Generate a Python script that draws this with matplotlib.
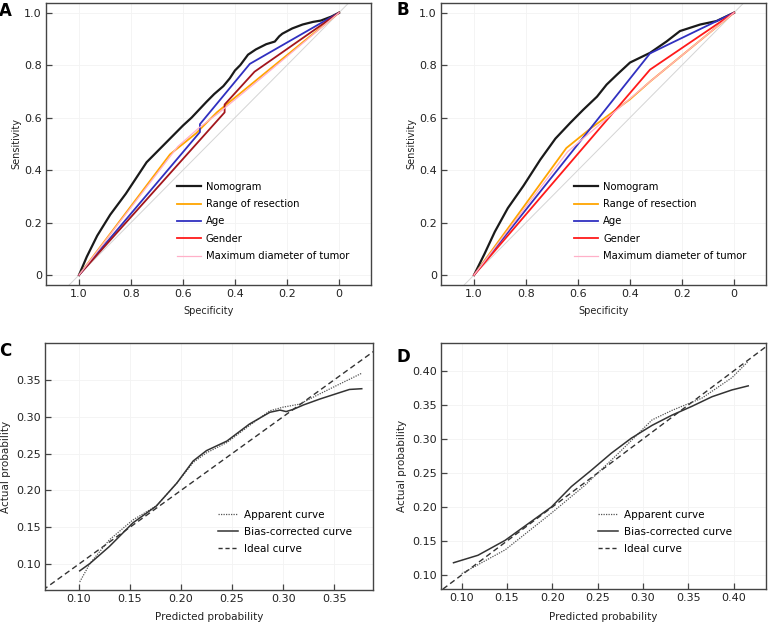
import numpy as np
import matplotlib.pyplot as plt

# ROC data, panel A (specificity, sensitivity)
a_nomo_spec = [1.0, 0.97, 0.93, 0.88, 0.82, 0.78, 0.74, 0.69, 0.64, 0.60, 0.567, 0.51, 0.48, 0.445, 0.42, 0.40, 0.38, 0.35, 0.32, 0.28, 0.247, 0.23, 0.218, 0.18, 0.14, 0.10, 0.07, 0.03, 0.0]
a_nomo_sens = [0.0, 0.07, 0.15, 0.23, 0.31, 0.37, 0.43, 0.48, 0.53, 0.57, 0.60, 0.66, 0.69, 0.72, 0.75, 0.78, 0.80, 0.84, 0.86, 0.88, 0.89, 0.91, 0.92, 0.94, 0.955, 0.965, 0.97, 0.985, 1.0]
a_range_spec = [1.0, 0.65, 0.55, 0.47, 0.0]
a_range_sens = [0.0, 0.46, 0.54, 0.62, 1.0]
a_age_spec = [1.0, 0.535, 0.535, 0.343, 0.0]
a_age_sens = [0.0, 0.545, 0.575, 0.805, 1.0]
a_gender_spec = [1.0, 0.44, 0.44, 0.325, 0.0]
a_gender_sens = [0.0, 0.62, 0.65, 0.775, 1.0]
a_diam_spec = [1.0, 0.62, 0.54, 0.46, 0.30, 0.0]
a_diam_sens = [0.0, 0.49, 0.56, 0.62, 0.75, 1.0]

# ROC data, panel B
b_nomo_spec = [1.0, 0.96, 0.92, 0.87, 0.81, 0.745, 0.687, 0.63, 0.58, 0.527, 0.49, 0.45, 0.40, 0.323, 0.26, 0.208, 0.13, 0.068, 0.0]
b_nomo_sens = [0.0, 0.08, 0.165, 0.255, 0.34, 0.44, 0.52, 0.58, 0.63, 0.68, 0.726, 0.764, 0.81, 0.847, 0.89, 0.93, 0.955, 0.968, 1.0]
b_range_spec = [1.0, 0.645, 0.55, 0.40, 0.32, 0.0]
b_range_sens = [0.0, 0.484, 0.56, 0.67, 0.74, 1.0]
b_age_spec = [1.0, 0.323, 0.0]
b_age_sens = [0.0, 0.845, 1.0]
b_gender_spec = [1.0, 0.323, 0.0]
b_gender_sens = [0.0, 0.783, 1.0]
b_diam_spec = [1.0, 0.64, 0.32, 0.0]
b_diam_sens = [0.0, 0.47, 0.74, 1.0]

# calibration data, panel C
c_app_x = [0.101, 0.111, 0.130, 0.153, 0.176, 0.196, 0.212, 0.225, 0.245, 0.267, 0.287, 0.300, 0.316, 0.333, 0.349, 0.377]
c_app_y = [0.076, 0.101, 0.133, 0.160, 0.179, 0.210, 0.238, 0.251, 0.265, 0.288, 0.308, 0.313, 0.317, 0.329, 0.340, 0.359]
c_bias_x = [0.101, 0.111, 0.130, 0.153, 0.176, 0.196, 0.212, 0.225, 0.245, 0.267, 0.287, 0.297, 0.303, 0.310, 0.320, 0.336, 0.356, 0.365, 0.377]
c_bias_y = [0.091, 0.101, 0.124, 0.156, 0.179, 0.210, 0.240, 0.254, 0.267, 0.290, 0.306, 0.309, 0.307, 0.310, 0.316, 0.324, 0.333, 0.337, 0.338]

# calibration data, panel D
d_app_x = [0.100, 0.148, 0.199, 0.236, 0.273, 0.310, 0.332, 0.365, 0.398, 0.416]
d_app_y = [0.102, 0.137, 0.191, 0.232, 0.279, 0.328, 0.342, 0.360, 0.390, 0.414]
d_bias_x = [0.091, 0.118, 0.148, 0.174, 0.199, 0.221, 0.243, 0.265, 0.287, 0.310, 0.332, 0.354, 0.376, 0.398, 0.416]
d_bias_y = [0.118, 0.129, 0.151, 0.176, 0.200, 0.230, 0.254, 0.279, 0.301, 0.320, 0.335, 0.348, 0.362, 0.372, 0.378]

roc_labels = ["Nomogram", "Range of resection", "Age", "Gender", "Maximum diameter of tumor"]
cal_labels = ["Apparent curve", "Bias-corrected curve", "Ideal curve"]

plt.rcParams['font.family'] = 'DejaVu Sans'

fig = plt.figure(figsize=(7.71, 6.26), dpi=100)
W, H = 771, 626


def add_ax(left, top, right, bottom):
    return fig.add_axes([left / W, 1 - bottom / H, (right - left) / W, (bottom - top) / H])


def style(ax):
    for s in ax.spines.values():
        s.set_color('#444444')
        s.set_linewidth(1.0)
    ax.tick_params(direction='in', length=4.5, width=0.9, color='#444444',
                   labelsize=8, labelcolor='#222222', pad=3)
    ax.grid(True, color='#f3f3f3', lw=0.6)
    ax.set_axisbelow(True)


def roc_panel(ax, curves, gender_color, legend_x):
    ax.plot([1.3, -0.3], [-0.3, 1.3], color='#d4d4d4', lw=0.7)
    colors = ['#1a1a1a', '#ffa500', '#3030c0', gender_color, '#ffb0c8']
    widths = [1.6, 1.3, 1.3, 1.3, 0.9]
    for i in range(5):
        sp, se = curves[i]
        ax.plot(sp, se, color=colors[i], lw=widths[i])
    # legend handle colours (Gender legend is pure red)
    leg_handles = [plt.Line2D([], [], color=c, lw=w) for c, w in zip(colors, widths)]
    leg_handles[3] = plt.Line2D([], [], color='#ff1a1a', lw=1.3)
    ax.legend(leg_handles, roc_labels, loc='lower left', bbox_to_anchor=(legend_x, 0.085),
              frameon=False, fontsize=7.2, handlelength=2.4, handletextpad=0.5,
              labelspacing=0.73, borderaxespad=0, borderpad=0)
    ax.set_xlim(1.127, -0.123)
    ax.set_ylim(-0.038, 1.037)
    ax.set_xticks([1.0, 0.8, 0.6, 0.4, 0.2, 0.0])
    ax.set_xticklabels(['1.0', '0.8', '0.6', '0.4', '0.2', '0'])
    ax.set_yticks([0, 0.2, 0.4, 0.6, 0.8, 1.0])
    ax.set_yticklabels(['0', '0.2', '0.4', '0.6', '0.8', '1.0'])
    ax.set_xlabel('Specificity', fontsize=7, color='#222222', labelpad=5)
    ax.set_ylabel('Sensitivity', fontsize=7, color='#222222', labelpad=2)
    style(ax)


def cal_panel(ax, app, bias, lims, xticks, yticks, legend_x, legend_y):
    lo, hi = lims
    ax.plot([0, 1], [0, 1], color='#333333', lw=1.0, ls=(0, (4, 2.5)))
    ax.plot(app[0], app[1], color='#555555', lw=0.9, ls=(0, (1, 1)))
    ax.plot(bias[0], bias[1], color='#333333', lw=1.1)
    leg_handles = [plt.Line2D([], [], color='#555555', lw=0.9, ls=(0, (1, 1))),
                   plt.Line2D([], [], color='#333333', lw=1.1),
                   plt.Line2D([], [], color='#333333', lw=1.0, ls=(0, (3, 2)))]
    ax.legend(leg_handles, cal_labels, loc='lower left',
              bbox_to_anchor=(legend_x, legend_y), frameon=False, fontsize=7.5,
              handlelength=1.9, handletextpad=0.6, labelspacing=0.68,
              borderaxespad=0, borderpad=0)
    ax.set_xlim(*lo)
    ax.set_ylim(*hi)
    ax.set_xticks(xticks)
    ax.set_xticklabels(['%.2f' % t for t in xticks])
    ax.set_yticks(yticks)
    ax.set_yticklabels(['%.2f' % t for t in yticks])
    ax.set_xlabel('Predicted probability', fontsize=7.5, color='#222222', labelpad=6)
    ax.set_ylabel('Actual probability', fontsize=7.5, color='#222222', labelpad=4)
    style(ax)


axA = add_ax(46, 3, 371, 285)
roc_panel(axA, [(a_nomo_spec, a_nomo_sens), (a_range_spec, a_range_sens), (a_age_spec, a_age_sens),
                (a_gender_spec, a_gender_sens), (a_diam_spec, a_diam_sens)], '#a3161c', 0.403)

axB = add_ax(441, 3, 766, 285)
roc_panel(axB, [(b_nomo_spec, b_nomo_sens), (b_range_spec, b_range_sens), (b_age_spec, b_age_sens),
                (b_gender_spec, b_gender_sens), (b_diam_spec, b_diam_sens)], '#ff1a1a', 0.41)

axC = add_ax(45, 343, 373, 590)
cal_panel(axC, (c_app_x, c_app_y), (c_bias_x, c_bias_y),
          ((0.067, 0.388), (0.065, 0.40)),
          [0.10, 0.15, 0.20, 0.25, 0.30, 0.35], [0.10, 0.15, 0.20, 0.25, 0.30, 0.35],
          0.527, 0.146)

axD = add_ax(441, 343, 766, 589)
cal_panel(axD, (d_app_x, d_app_y), (d_bias_x, d_bias_y),
          ((0.0772, 0.4356), (0.0794, 0.441)),
          [0.10, 0.15, 0.20, 0.25, 0.30, 0.35, 0.40], [0.10, 0.15, 0.20, 0.25, 0.30, 0.35, 0.40],
          0.483, 0.142)

for lbl, x, y in [('A', 5, 11), ('B', 403, 10), ('C', 5, 351), ('D', 403, 357)]:
    fig.text(x / W, 1 - y / H, lbl, fontsize=12, fontweight='bold', ha='center', va='center')

fig.savefig('out.png', dpi=100)
